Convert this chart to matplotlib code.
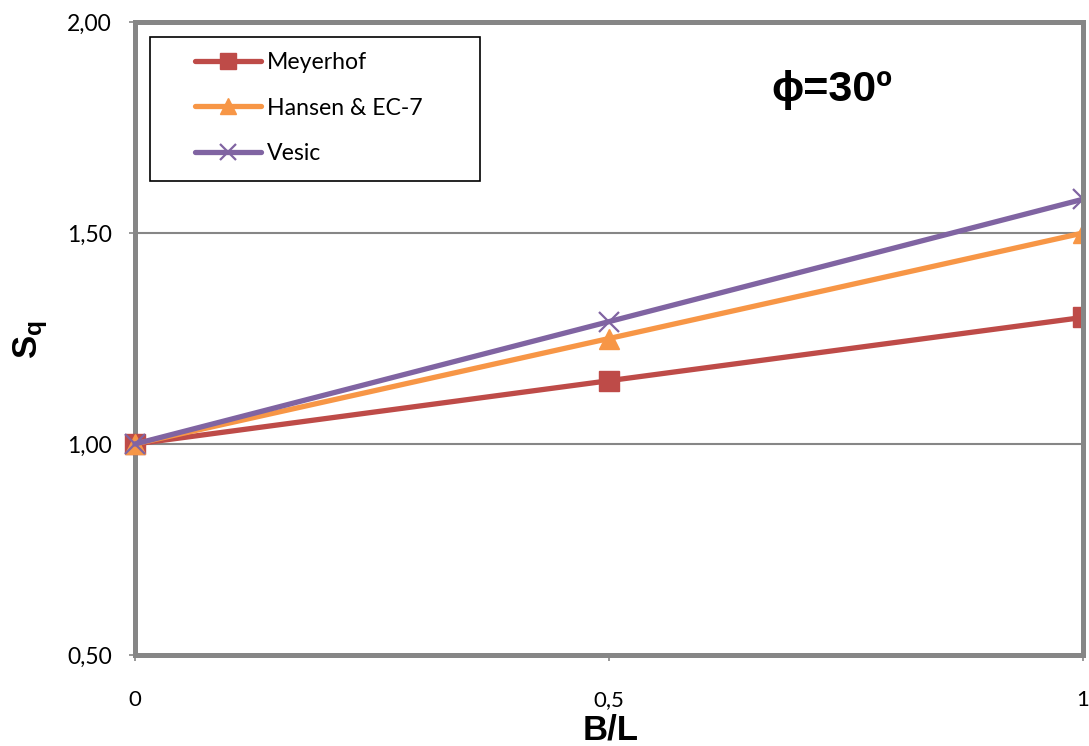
import matplotlib.pyplot as plt
import matplotlib.patches as mpatches

# shape factor s_q against B/L for phi = 30 deg
bl = [0, 0.5, 1]
meyerhof = [1.00, 1.15, 1.30]
hansen = [1.00, 1.25, 1.50]
vesic = [1.00, 1.29, 1.58]

x_ticks = [0, 0.5, 1]
x_labels = ['0', '0,5', '1']
y_ticks = [0.5, 1.0, 1.5, 2.0]
y_labels = ['0,50', '1,00', '1,50', '2,00']

W, H = 1089, 746
grey = '#868686'
regular = ['Lato', 'DejaVu Sans']
bold = ['Liberation Sans', 'DejaVu Sans']

plt.rcParams['mathtext.fontset'] = 'custom'
plt.rcParams['mathtext.bf'] = 'Liberation Sans:bold'
plt.rcParams['mathtext.rm'] = 'Liberation Sans'

fig = plt.figure(figsize=(W / 100, H / 100), dpi=100)
ax = fig.add_axes([135 / W, 91 / H, 948 / W, 633 / H])

# markers may spill past the left axis but get cut at the right border
clip = mpatches.Rectangle((-0.05, -0.05), 1.05, 1.1, transform=ax.transAxes)

series = [
    (meyerhof, 'Meyerhof', '#BE4B48', 's', 15, 1),
    (hansen, 'Hansen & EC-7', '#F79646', '^', 15, 1),
    (vesic, 'Vesic', '#8064A2', 'x', 15, 1.6),
]
for vals, name, col, mk, ms, mew in series:
    ln, = ax.plot(bl, vals, color=col, lw=3.8, marker=mk, ms=ms,
                  mew=mew, mec=col, mfc=col, label=name, zorder=2,
                  solid_capstyle='round')
    ln.set_clip_path(clip)

ax.set_xlim(0, 1)
ax.set_ylim(0.5, 2.0)
ax.set_xticks(x_ticks)
ax.set_xticklabels(x_labels, family=regular, fontsize=16)
ax.set_yticks(y_ticks)
ax.set_yticklabels(y_labels, family=regular, fontsize=16.5)
ax.tick_params(axis='both', direction='out', length=4.5, width=1.2, color=grey)
ax.tick_params(axis='y', pad=12)
ax.tick_params(axis='x', pad=21)

ax.grid(axis='y', color=grey, lw=1.5, zorder=0)
ax.set_axisbelow(True)

for side, sp in ax.spines.items():
    sp.set_color(grey)
    sp.set_linewidth(3.6)
    sp.set_zorder(3)
ax.spines['left'].set_zorder(1.5)

# legend: drawn frameless, with its own box behind it
box = mpatches.Rectangle((150 / W, 1 - 181 / H), 330 / W, 144 / H,
                         transform=fig.transFigure, fill=False,
                         ec='black', lw=1.2)
fig.patches.append(box)
leg = fig.legend(loc='center left', bbox_to_anchor=(183 / W, 1 - 108 / H),
                 frameon=False, borderpad=0, handlelength=2.9,
                 handletextpad=0.25, labelspacing=1.05, markerscale=0.75,
                 prop={'family': regular, 'size': 16.6})

fig.text(832 / W, 1 - 90 / H, 'ϕ=30º', family=bold, weight='bold',
         fontsize=31, ha='center', va='center')

fig.text(611 / W, 1 - 739 / H, 'B/L', family=bold, weight='bold',
         fontsize=25, ha='center', va='baseline')

fig.text(31 / W, 1 - 340 / H, r'$\mathbf{S_q}$', fontsize=25,
         rotation=90, ha='center', va='center')

fig.savefig('out.png', dpi=100)
